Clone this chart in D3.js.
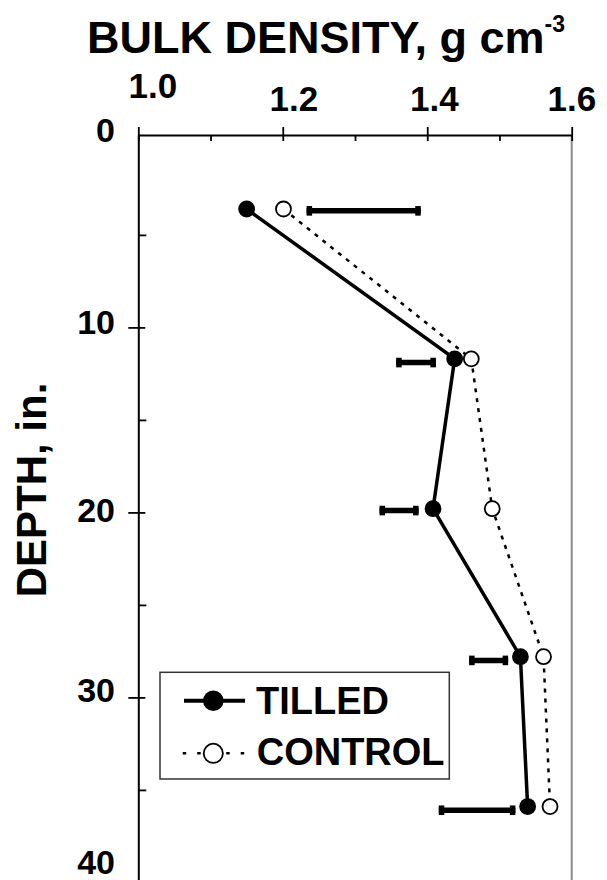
<!DOCTYPE html>
<html>
<head>
<meta charset="utf-8">
<script src="https://cdn.jsdelivr.net/npm/d3@7"></script>
<style>
  body { margin: 0; background: #fff; }
  text { font-family: "Liberation Sans", Arial, sans-serif; font-weight: bold; fill: #000; }
</style>
</head>
<body>
<div id="chart"></div>
<script>
// depth of each sampled layer (in.) and bulk density (g cm-3)
const depths = [3.6, 11.7, 19.8, 27.8, 35.9];
const tilled = [1.150, 1.438, 1.408, 1.529, 1.539];
const control = [1.201, 1.461, 1.490, 1.561, 1.570];

// LSD bars
const lsdDepths = [3.7, 11.9, 19.9, 28.0, 36.1];
const lsdLow = [1.233, 1.357, 1.334, 1.458, 1.416];
const lsdHigh = [1.391, 1.412, 1.388, 1.512, 1.522];

const xTicks = [1.0, 1.2, 1.4, 1.6];
const xMinorTicks = [1.1, 1.3, 1.5];
const yTicks = [0, 10, 20, 30, 40];
const yMinorTicks = [5, 15, 25, 35];
const seriesNames = ["TILLED", "CONTROL"];

const width = 607, height = 880;

const svg = d3.select("#chart")
    .append("svg")
    .attr("width", width)
    .attr("height", height);

const x = d3.scaleLinear().domain([1.0, 1.6]).range([138.3, 571.7]);
const y = d3.scaleLinear().domain([-0.4, 40]).range([135, 882.4]);

// right frame line (grey)
svg.append("line")
    .attr("x1", x(1.6)).attr("x2", x(1.6))
    .attr("y1", y(-0.4)).attr("y2", height)
    .attr("stroke", "#8c8c8c")
    .attr("stroke-width", 2);

// top axis
const topAxis = svg.append("g")
    .attr("transform", `translate(0,${y(-0.4)})`)
    .call(d3.axisTop(x).tickValues(xTicks).tickSizeOuter(0).tickFormat(d3.format(".1f")));
topAxis.select(".domain").attr("stroke", "#000").attr("stroke-width", 2);
topAxis.selectAll(".tick line").attr("y1", 6).attr("y2", -8).attr("stroke-width", 1.8);
const xLabelDx = [14, 10.6, 6.6, -0.4];
topAxis.selectAll(".tick text")
    .attr("font-size", 35)
    .attr("dy", null)
    .attr("y", (d, i) => i === 0 ? -36.7 : -24.3)
    .attr("dx", (d, i) => xLabelDx[i]);

svg.append("g")
    .attr("transform", `translate(0,${y(-0.4)})`)
    .call(d3.axisTop(x).tickValues(xMinorTicks).tickSize(-6).tickFormat(""))
    .call(g => g.select(".domain").remove())
    .selectAll(".tick line").attr("stroke-width", 1.8);

// left axis
const leftAxis = svg.append("g")
    .attr("transform", `translate(${x(1.0)},0)`)
    .call(d3.axisLeft(y).tickValues(yTicks).tickSizeOuter(0));
leftAxis.select(".domain").attr("stroke", "#000").attr("stroke-width", 2);
leftAxis.selectAll(".tick line")
    .attr("x1", d => d === 0 ? 0 : 7)
    .attr("x2", d => d === 0 ? 0 : -10)
    .attr("stroke-width", 1.8);
const yLabelDy = { 0: -1.4, 10: 6, 20: 9.5, 30: 3.6, 40: -9 };
leftAxis.selectAll(".tick text")
    .attr("font-size", 34)
    .attr("dy", null)
    .attr("x", -23.3)
    .attr("y", d => yLabelDy[d]);

svg.append("g")
    .attr("transform", `translate(${x(1.0)},0)`)
    .call(d3.axisLeft(y).tickValues(yMinorTicks).tickSize(-8).tickFormat(""))
    .call(g => g.select(".domain").remove())
    .selectAll(".tick line").attr("stroke-width", 1.8);

// axis titles
const title = svg.append("text")
    .attr("x", 87)
    .attr("y", 53)
    .attr("font-size", 45)
    .text("BULK DENSITY, g cm");
title.append("tspan")
    .attr("font-size", 23)
    .attr("dy", -21)
    .text("-3");

svg.append("text")
    .attr("transform", "translate(46,490) rotate(-90)")
    .attr("text-anchor", "middle")
    .attr("font-size", 42)
    .text("DEPTH, in.");

// LSD bars
const lsd = svg.append("g");
depths.forEach((d, i) => {
    const yy = y(lsdDepths[i]);
    lsd.append("line")
        .attr("x1", x(lsdLow[i])).attr("x2", x(lsdHigh[i]))
        .attr("y1", yy).attr("y2", yy)
        .attr("stroke", "#000")
        .attr("stroke-width", 5.5);
    [x(lsdLow[i]), x(lsdHigh[i]) - 5.5].forEach(cx => {
        lsd.append("rect")
            .attr("x", cx).attr("y", yy - 4.8)
            .attr("width", 5.5).attr("height", 9.6)
            .attr("fill", "#000");
    });
});

// series lines
const line = (vals) => d3.line()
    .x((d, i) => x(vals[i]))
    .y(d => y(d))(depths);

svg.append("path")
    .attr("d", line(control))
    .attr("fill", "none")
    .attr("stroke", "#000")
    .attr("stroke-width", 2.5)
    .attr("stroke-dasharray", "4,6");

svg.append("path")
    .attr("d", line(tilled))
    .attr("fill", "none")
    .attr("stroke", "#000")
    .attr("stroke-width", 3.5);

// markers
svg.selectAll(".pt-tilled")
    .data(depths)
    .enter()
    .append("circle")
    .attr("class", "pt-tilled")
    .attr("cx", (d, i) => x(tilled[i]))
    .attr("cy", d => y(d))
    .attr("r", 8.4)
    .attr("fill", "#000");

svg.selectAll(".pt-control")
    .data(depths)
    .enter()
    .append("circle")
    .attr("class", "pt-control")
    .attr("cx", (d, i) => x(control[i]))
    .attr("cy", d => y(d))
    .attr("r", 7.5)
    .attr("fill", "#fff")
    .attr("stroke", "#000")
    .attr("stroke-width", 1.8);

// legend
const legend = svg.append("g").attr("transform", "translate(160,672.3)");
legend.append("rect")
    .attr("width", 289.3)
    .attr("height", 106.7)
    .attr("fill", "#fff")
    .attr("stroke", "#333")
    .attr("stroke-width", 1.5);

legend.append("line")
    .attr("x1", 24).attr("x2", 85)
    .attr("y1", 28.4).attr("y2", 28.4)
    .attr("stroke", "#000").attr("stroke-width", 4);
legend.append("circle")
    .attr("cx", 53.3).attr("cy", 28.4).attr("r", 10.3)
    .attr("fill", "#000");
legend.append("text")
    .attr("x", 96).attr("y", 41.7)
    .attr("font-size", 38)
    .text(seriesNames[0]);

legend.append("line")
    .attr("x1", 22.7).attr("x2", 86.7)
    .attr("y1", 81).attr("y2", 81)
    .attr("stroke", "#000").attr("stroke-width", 2.5)
    .attr("stroke-dasharray", "3.5,11");
legend.append("circle")
    .attr("cx", 53.3).attr("cy", 81).attr("r", 9.6)
    .attr("fill", "#fff")
    .attr("stroke", "#000").attr("stroke-width", 1.8);
legend.append("text")
    .attr("x", 96.7).attr("y", 92.7)
    .attr("font-size", 38)
    .text(seriesNames[1]);
</script>
</body>
</html>
